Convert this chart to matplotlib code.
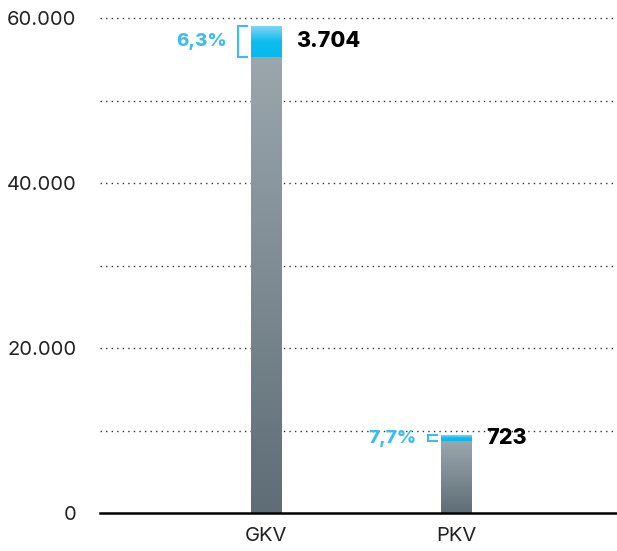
import numpy as np
import matplotlib.pyplot as plt
from matplotlib.colors import LinearSegmentedColormap

# Daten
kategorien = ["GKV", "PKV"]
basis = [55300, 8700]
zuwachs = [3704, 723]
zuwachs_labels = ["3.704", "723"]
prozent_labels = ["6,3%", "7,7%"]
y_ticks = [0, 20000, 40000, 60000]
y_ticklabels = ["0", "20.000", "40.000", "60.000"]
grid_werte = [10000, 20000, 30000, 40000, 50000, 60000]

plt.rcParams['font.family'] = ['Inter', 'DejaVu Sans']

fig = plt.figure(figsize=(6.17, 5.51), dpi=100)
ax = fig.add_axes([100 / 617, 38 / 551, 517 / 617, 503.25 / 551])

grau = LinearSegmentedColormap.from_list("grau", ["#5e6d76", "#9ba7ad"])
cyan = LinearSegmentedColormap.from_list("cyan", ["#08b9ee", "#0bbcee", "#84d4f5"])
grad = np.linspace(0, 1, 256).reshape(-1, 1)

breite = 0.158
for gv in grid_werte:
    ax.axhline(gv, color="#333333", lw=1.0, ls=(0, (1, 3)), zorder=1)

for i, kat in enumerate(kategorien):
    x0 = i - breite / 2
    x1 = i + breite / 2
    gesamt = basis[i] + zuwachs[i]
    ax.imshow(grad, cmap=grau, origin="lower", aspect="auto",
              extent=[x0, x1, 0, basis[i]], zorder=2)
    ax.imshow(grad, cmap=cyan, origin="lower", aspect="auto",
              extent=[x0, x1, basis[i], gesamt], zorder=2)
    # Klammer
    bx = x0 - 0.068
    bx2 = x0 - 0.021
    ax.plot([bx2, bx, bx, bx2], [gesamt, gesamt, basis[i], basis[i]],
            color="#3dbdee", lw=1.5, zorder=3, solid_joinstyle="miter")
    ym = basis[i] + zuwachs[i] / 2
    ax.text(x0 - 0.128, ym, prozent_labels[i], ha="right", va="center",
            color="#3dbdee", fontsize=13.5, fontweight="heavy")
    ax.text(x1 + 0.08, ym, zuwachs_labels[i], ha="left", va="center",
            color="black", fontsize=15.5, fontweight="heavy")

ax.set_xlim(-0.874, 1.847)
ax.set_ylim(0, 61000)
ax.set_xticks(range(len(kategorien)))
ax.set_xticklabels(kategorien, fontsize=14.5, color="#222222")
ax.set_yticks(y_ticks)
ax.set_yticklabels(y_ticklabels, fontsize=14.5, color="#222222")
ax.tick_params(axis="y", length=0, pad=17)
ax.tick_params(axis="x", length=0, pad=10)
for s in ["top", "right", "left"]:
    ax.spines[s].set_visible(False)
ax.spines["bottom"].set_linewidth(1.8)
ax.spines["bottom"].set_zorder(4)

fig.savefig("out.png", dpi=100)
